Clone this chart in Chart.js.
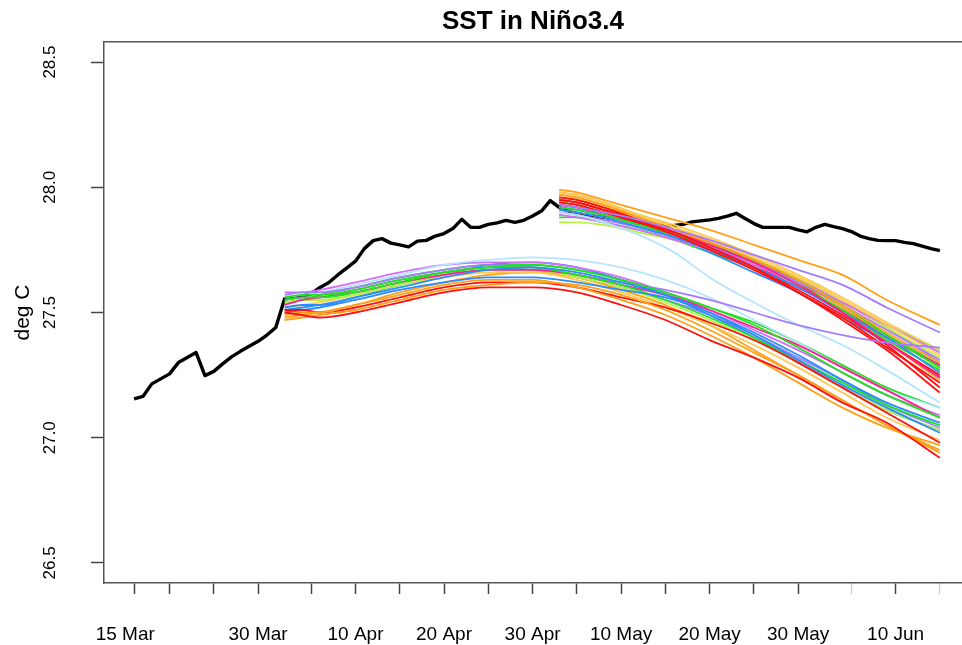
<!DOCTYPE html>
<html>
<head>
<meta charset="utf-8">
<script src="https://cdn.jsdelivr.net/npm/chart.js@4.4.0/dist/chart.umd.min.js"></script>
<style>
  html, body { margin: 0; padding: 0; background: #fff; }
  #wrap { width: 962px; height: 645px; }
</style>
</head>
<body>
<div id="wrap"><canvas id="sst" width="962" height="645"></canvas></div>
<script>
// days are counted from 1 Jan (75 = 16 Mar, 166 = 15 Jun)
const obsStart = 75;
const obsSST = [
  27.155, 27.165, 27.215, 27.235, 27.255, 27.300, 27.320, 27.340, 27.248, 27.265,
  27.295, 27.323, 27.345, 27.365, 27.385, 27.410, 27.440, 27.555, 27.560, 27.565,
  27.575, 27.600, 27.620, 27.650, 27.677, 27.705, 27.755, 27.787, 27.795, 27.777,
  27.770, 27.762, 27.785, 27.788, 27.805, 27.815, 27.835, 27.872, 27.840, 27.840,
  27.852, 27.858, 27.868, 27.860, 27.868, 27.885, 27.905, 27.947, 27.920, 27.905,
  27.895, 27.890, 27.885, 27.880, 27.875, 27.870, 27.865, 27.860, 27.855, 27.850,
  27.845, 27.848, 27.852, 27.862, 27.866, 27.870, 27.876, 27.885, 27.896, 27.875,
  27.855, 27.840, 27.840, 27.840, 27.840, 27.830, 27.822, 27.840, 27.852, 27.843,
  27.835, 27.823, 27.805, 27.795, 27.788, 27.787, 27.787, 27.780, 27.775, 27.765,
  27.755, 27.747
];

// forecasts started 1 Apr
const runADays = [92, 94, 96, 100, 105, 110, 115, 120, 125, 130, 135, 140, 145, 150, 155, 160, 166];
const runA = [
  [27.50, 27.49, 27.48, 27.50, 27.54, 27.58, 27.60, 27.60, 27.58, 27.53, 27.47, 27.39, 27.32, 27.24, 27.14, 27.06, 26.92],
  [27.47, 27.48, 27.49, 27.51, 27.55, 27.59, 27.61, 27.62, 27.61, 27.57, 27.51, 27.43, 27.34, 27.25, 27.15, 27.05, 26.95],
  [27.49, 27.50, 27.50, 27.53, 27.57, 27.61, 27.63, 27.63, 27.60, 27.55, 27.49, 27.41, 27.32, 27.22, 27.12, 27.04, 26.97],
  [27.51, 27.51, 27.50, 27.52, 27.56, 27.60, 27.62, 27.62, 27.60, 27.56, 27.52, 27.46, 27.39, 27.30, 27.20, 27.10, 26.98],
  [27.50, 27.51, 27.52, 27.55, 27.59, 27.62, 27.64, 27.64, 27.62, 27.59, 27.56, 27.50, 27.42, 27.33, 27.23, 27.14, 27.06],
  [27.52, 27.53, 27.53, 27.56, 27.60, 27.64, 27.67, 27.68, 27.66, 27.62, 27.57, 27.50, 27.41, 27.31, 27.21, 27.12, 27.02],
  [27.55, 27.56, 27.56, 27.58, 27.62, 27.66, 27.68, 27.69, 27.67, 27.63, 27.58, 27.52, 27.45, 27.36, 27.26, 27.17, 27.08],
  [27.56, 27.57, 27.57, 27.59, 27.63, 27.66, 27.68, 27.68, 27.65, 27.61, 27.55, 27.48, 27.40, 27.31, 27.22, 27.13, 27.05],
  [27.53, 27.55, 27.56, 27.58, 27.62, 27.65, 27.67, 27.67, 27.65, 27.61, 27.57, 27.51, 27.44, 27.37, 27.28, 27.19, 27.08],
  [27.57, 27.58, 27.58, 27.60, 27.64, 27.67, 27.69, 27.68, 27.65, 27.62, 27.59, 27.55, 27.50, 27.45, 27.41, 27.38, 27.36],
  [27.56, 27.57, 27.58, 27.61, 27.65, 27.69, 27.71, 27.72, 27.71, 27.68, 27.63, 27.56, 27.47, 27.38, 27.28, 27.19, 27.12],
  [27.54, 27.55, 27.55, 27.57, 27.61, 27.65, 27.67, 27.67, 27.64, 27.60, 27.54, 27.47, 27.39, 27.30, 27.20, 27.11, 27.03],
  [27.58, 27.58, 27.59, 27.62, 27.66, 27.69, 27.70, 27.70, 27.68, 27.64, 27.58, 27.51, 27.43, 27.35, 27.26, 27.17, 27.09],
  [27.52, 27.53, 27.54, 27.57, 27.61, 27.64, 27.66, 27.66, 27.63, 27.58, 27.52, 27.45, 27.37, 27.28, 27.18, 27.08, 26.99],
  [27.51, 27.52, 27.53, 27.56, 27.61, 27.65, 27.69, 27.70, 27.68, 27.63, 27.57, 27.49, 27.40, 27.30, 27.20, 27.11, 27.03],
  [27.48, 27.49, 27.50, 27.53, 27.58, 27.62, 27.65, 27.66, 27.64, 27.59, 27.53, 27.45, 27.35, 27.25, 27.15, 27.05, 26.94],
  [27.54, 27.55, 27.57, 27.60, 27.64, 27.67, 27.69, 27.69, 27.67, 27.63, 27.58, 27.52, 27.46, 27.38, 27.29, 27.20, 27.12],
  [27.55, 27.56, 27.56, 27.59, 27.63, 27.66, 27.68, 27.67, 27.64, 27.60, 27.55, 27.49, 27.41, 27.32, 27.23, 27.13, 27.04]
];

// forecasts started 3 May
const runBDays = [123, 125, 128, 132, 136, 140, 145, 150, 155, 160, 166];
const runB = [
  [27.99, 27.98, 27.95, 27.91, 27.87, 27.83, 27.77, 27.71, 27.65, 27.55, 27.45],
  [27.93, 27.92, 27.90, 27.87, 27.83, 27.79, 27.73, 27.67, 27.61, 27.52, 27.42],
  [27.90, 27.89, 27.86, 27.81, 27.74, 27.64, 27.54, 27.45, 27.37, 27.27, 27.14],
  [27.95, 27.94, 27.91, 27.86, 27.81, 27.75, 27.67, 27.58, 27.47, 27.35, 27.18],
  [27.94, 27.93, 27.90, 27.86, 27.82, 27.76, 27.68, 27.58, 27.48, 27.36, 27.22],
  [27.97, 27.96, 27.93, 27.88, 27.83, 27.78, 27.71, 27.63, 27.53, 27.42, 27.30],
  [27.98, 27.97, 27.94, 27.89, 27.84, 27.79, 27.72, 27.64, 27.55, 27.45, 27.33],
  [27.93, 27.92, 27.90, 27.86, 27.82, 27.77, 27.70, 27.61, 27.50, 27.38, 27.24],
  [27.92, 27.91, 27.89, 27.85, 27.81, 27.77, 27.71, 27.63, 27.53, 27.41, 27.28],
  [27.91, 27.90, 27.88, 27.84, 27.80, 27.75, 27.68, 27.60, 27.50, 27.40, 27.26],
  [27.90, 27.89, 27.87, 27.84, 27.80, 27.76, 27.70, 27.62, 27.53, 27.43, 27.31],
  [27.89, 27.88, 27.86, 27.83, 27.79, 27.75, 27.69, 27.62, 27.54, 27.45, 27.34],
  [27.86, 27.86, 27.85, 27.82, 27.79, 27.75, 27.69, 27.62, 27.54, 27.45, 27.35],
  [27.96, 27.95, 27.92, 27.87, 27.82, 27.76, 27.68, 27.59, 27.49, 27.38, 27.25],
  [27.96, 27.95, 27.92, 27.88, 27.83, 27.77, 27.70, 27.62, 27.52, 27.41, 27.28],
  [27.94, 27.93, 27.90, 27.86, 27.82, 27.77, 27.70, 27.61, 27.51, 27.39, 27.27],
  [27.92, 27.91, 27.89, 27.85, 27.80, 27.74, 27.66, 27.58, 27.48, 27.38, 27.24],
  [27.93, 27.92, 27.89, 27.85, 27.81, 27.76, 27.69, 27.60, 27.51, 27.40, 27.29],
  [27.97, 27.96, 27.93, 27.89, 27.85, 27.80, 27.73, 27.65, 27.56, 27.46, 27.35],
  [27.95, 27.94, 27.91, 27.87, 27.83, 27.78, 27.71, 27.62, 27.50, 27.37, 27.20],
  [27.91, 27.90, 27.88, 27.85, 27.81, 27.77, 27.71, 27.64, 27.55, 27.44, 27.32],
  [27.92, 27.91, 27.89, 27.85, 27.81, 27.76, 27.70, 27.63, 27.54, 27.44, 27.30],
  [27.98, 27.97, 27.94, 27.89, 27.84, 27.78, 27.70, 27.61, 27.50, 27.38, 27.23],
  [27.88, 27.88, 27.86, 27.83, 27.79, 27.74, 27.68, 27.60, 27.51, 27.41, 27.29]
];

const tickDays = [74, 75, 79, 84, 89, 95, 100, 105, 110, 115, 120, 125, 130, 135, 140, 145, 150, 156, 161, 166];
const tickLabels = { 74: '15 Mar', 89: '30 Mar', 100: '10 Apr', 110: '20 Apr', 120: '30 Apr',
                     130: '10 May', 140: '20 May', 150: '30 May', 161: '10 Jun' };
const yTicks = [26.5, 27.0, 27.5, 28.0, 28.5];

const C = {
  red: '#ff1010', orange: '#ffa01a', gold: '#ffc850', pink: '#ff2090', green: '#22e022',
  blue: '#2b8cff', lblue: '#b4e4ff', purple: '#a47cff', violet: '#d46cff', ygreen: '#b8f040'
};
const colorsA = [C.red, C.orange, C.orange, C.red, C.blue, C.blue, C.green, C.green, C.pink,
                 C.purple, C.lblue, C.ygreen, C.violet, C.gold, C.blue, C.orange, C.green, C.purple];
const colorsB = [C.orange, C.purple, C.lblue, C.red, C.red, C.orange, C.gold, C.pink, C.green,
                 C.blue, C.purple, C.violet, C.ygreen, C.red, C.orange, C.green, C.blue, C.pink,
                 C.gold, C.red, C.ygreen, C.violet, C.orange, C.green];

const FONT = "'Liberation Sans', Arial, Helvetica, sans-serif";
const axisGrey = '#555';

function runSet(days, runs, colors) {
  return runs.map((vals, i) => ({
    data: vals.map((v, j) => ({ x: days[j], y: v })),
    borderColor: colors[i],
    borderWidth: 1.8,
    pointRadius: 0,
    cubicInterpolationMode: 'monotone',
    fill: false,
    order: 0,
    xAxisID: 'x'
  }));
}

const datasets = [
  {
    data: obsSST.map((v, i) => ({ x: obsStart + i, y: v })),
    borderColor: '#000',
    borderWidth: 3.4,
    borderJoinStyle: 'round',
    pointRadius: 0,
    tension: 0,
    fill: false,
    order: 1,
    xAxisID: 'x'
  },
  ...runSet(runADays, runA, colorsA),
  ...runSet(runBDays, runB, colorsB)
];

// put the title over the middle of the plot box, as R does
const centreTitle = {
  id: 'centreTitle',
  afterLayout(chart) {
    const t = chart.titleBlock;
    if (t) {
      t.left = chart.chartArea.left;
      t.right = chart.chartArea.right;
      t.width = t.right - t.left;
    }
  }
};

// the plot box runs off the right edge of the picture, so no side padding
function fitX(h) {
  return s => {
    s.height = h;
    s.paddingLeft = 0;
    s.paddingRight = 0;
  };
}

new Chart(document.getElementById('sst'), {
  type: 'line',
  data: { datasets: datasets },
  plugins: [centreTitle],
  options: {
    responsive: false,
    animation: false,
    devicePixelRatio: 1,
    layout: { padding: 0 },
    plugins: {
      legend: { display: false },
      tooltip: { enabled: false },
      title: {
        display: true,
        text: 'SST in Niño3.4',
        color: '#000',
        font: { family: FONT, size: 26, weight: 'bold', lineHeight: 1.2 },
        padding: { top: 6, bottom: 4.8 }
      }
    },
    scales: {
      x: {
        type: 'linear',
        position: 'bottom',
        min: 71.6,
        max: 168.5,
        afterBuildTicks: s => { s.ticks = tickDays.map(v => ({ value: v })); },
        afterFit: fitX(62),
        grid: {
          drawOnChartArea: false,
          drawTicks: true,
          tickLength: 11,
          tickWidth: 1.5,
          color: ctx => {
            const v = ctx.tick ? ctx.tick.value : null;
            if (v === 74) return 'rgba(0,0,0,0)';
            if (v === 156 || v === 166) return '#d0d0d0';
            return '#444';
          }
        },
        border: { display: true, color: axisGrey, width: 1.5 },
        ticks: {
          autoSkip: false,
          minRotation: 0,
          maxRotation: 0,
          padding: 29,
          color: '#000',
          font: { family: FONT, size: 19 },
          callback: v => tickLabels[v] || ''
        }
      },
      xTop: {
        type: 'linear',
        position: 'top',
        min: 71.6,
        max: 168.5,
        afterFit: fitX(0),
        grid: { drawOnChartArea: false, drawTicks: false },
        border: { display: true, color: axisGrey, width: 1.5 },
        ticks: { display: false }
      },
      y: {
        type: 'linear',
        position: 'left',
        min: 26.42,
        max: 28.58,
        afterBuildTicks: s => { s.ticks = yTicks.map(v => ({ value: v })); },
        afterFit: s => { s.width = 104; s.paddingTop = 0; s.paddingBottom = 0; },
        grid: { drawOnChartArea: false, drawTicks: true, tickLength: 13, tickWidth: 1.5, color: '#444' },
        border: { display: true, color: axisGrey, width: 1.5 },
        ticks: {
          minRotation: 90,
          maxRotation: 90,
          crossAlign: 'center',
          padding: 24,
          color: '#000',
          font: { family: FONT, size: 17 },
          callback: v => v.toFixed(1)
        },
        title: {
          display: true,
          text: 'deg C',
          color: '#000',
          font: { family: FONT, size: 21 },
          padding: { top: 11, bottom: 0 }
        }
      }
    }
  }
});
</script>
</body>
</html>
